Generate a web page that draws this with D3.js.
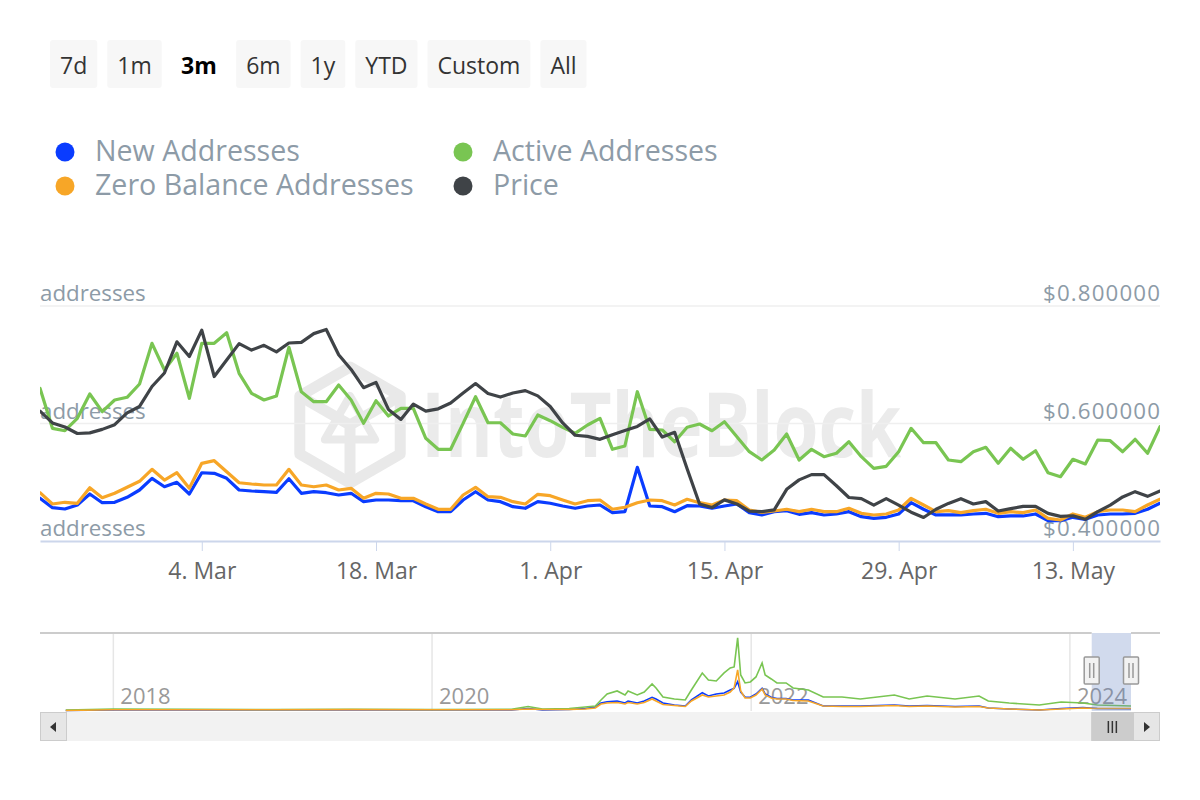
<!DOCTYPE html>
<html><head><meta charset="utf-8">
<script src="https://cdn.jsdelivr.net/npm/d3@7"></script>
<style>
body{margin:0;background:#fff;}
svg{display:block;font-family:"Open Sans",sans-serif;}
</style>
</head><body>
<svg id="c" width="1200" height="800"></svg>
<script>
// ---------------- DATA ----------------
const rangeButtons = ["7d","1m","3m","6m","1y","YTD","Custom","All"];
const selectedButton = "3m";
const seriesNames = ["New Addresses","Active Addresses","Zero Balance Addresses","Price"];
const startDate = "2024-02-20";
const endDate = "2024-05-20";
const dateTicks = ["2024-03-04","2024-03-18","2024-04-01","2024-04-15","2024-04-29","2024-05-13"];
const addressTicks = [0, 2000, 4000];
const priceTicks = [0.4, 0.6, 0.8];

const newAddresses = [
727,567,545,613,800,652,659,744,868,1067,
924,999,800,1162,1152,1067,868,851,839,829,
1060,812,839,822,783,812,669,698,698,686,
686,584,499,499,698,839,698,669,584,557,
669,642,596,557,596,613,482,499,1254,596,
584,499,601,596,557,596,630,482,443,499,
516,454,482,443,460,499,414,386,403,460,
652,540,443,443,443,460,471,414,426,426,
460,346,346,403,369,443,460,460,471,540,
642];
const activeAddresses = [
2599,1918,1877,2088,2502,2201,2400,2446,2672,3365,
2910,3195,2429,3365,3365,3545,2854,2514,2400,2468,
3297,2541,2371,2371,2655,2400,2003,2388,2128,2259,
2259,1748,1561,1561,2003,2456,2013,2013,1821,1787,
2145,2048,1935,1833,1974,2088,1561,1617,2541,1901,
1889,1690,1935,1991,1877,2030,1775,1520,1379,1549,
1821,1379,1561,1435,1493,1690,1435,1237,1271,1520,
1918,1673,1673,1379,1350,1520,1595,1322,1578,1391,
1537,1162,1094,1391,1311,1719,1707,1520,1731,1493,
1945];
const zeroBalanceAddresses = [
822,630,659,642,907,737,812,914,1016,1220,
1038,1162,897,1322,1367,1179,992,970,953,953,
1220,953,924,953,868,897,727,812,800,727,
727,630,540,540,783,914,754,744,669,630,
795,771,698,630,686,698,540,574,652,698,
686,613,710,652,613,698,686,528,488,511,
540,499,540,499,499,557,471,443,460,528,
727,613,499,516,482,516,540,471,499,482,
528,386,357,460,403,499,528,528,499,613,
710];
const price = [
0.621,0.601,0.594,0.583,0.584,0.590,0.598,0.618,0.629,0.663,
0.686,0.739,0.714,0.759,0.680,0.708,0.736,0.725,0.733,0.722,
0.737,0.738,0.753,0.760,0.717,0.692,0.661,0.670,0.624,0.607,
0.633,0.621,0.625,0.635,0.652,0.668,0.651,0.645,0.652,0.656,
0.647,0.629,0.601,0.580,0.578,0.573,0.581,0.588,0.595,0.608,
0.577,0.585,0.523,0.463,0.457,0.470,0.463,0.451,0.450,0.453,
0.488,0.504,0.513,0.513,0.494,0.474,0.472,0.461,0.472,0.461,
0.449,0.440,0.454,0.464,0.472,0.463,0.467,0.451,0.455,0.459,
0.459,0.447,0.442,0.443,0.437,0.450,0.461,0.475,0.484,0.476,
0.485];

// navigator (full history)
const navStart = "2017-07-17";
const navYearTicks = ["2018","2020","2022","2024"];
const navSelStart = "2024-02-20";
const navDates = ["2017-09-14","2018-01-01","2018-07-01","2019-01-01","2019-07-01","2020-01-01","2020-07-01","2020-08-08","2020-09-10","2020-11-10",
"2020-12-17","2021-01-09","2021-01-22","2021-02-05","2021-02-28","2021-03-18","2021-03-25","2021-04-15","2021-05-01","2021-05-19",
"2021-05-28","2021-06-13","2021-07-09","2021-08-03","2021-08-17","2021-09-11","2021-09-25","2021-10-13","2021-10-31","2021-11-14",
"2021-11-23","2021-12-01","2021-12-08","2021-12-18","2021-12-30","2022-01-12","2022-01-26","2022-02-02","2022-02-16","2022-03-01",
"2022-03-22","2022-04-07","2022-05-12","2022-06-15","2022-07-28","2022-09-08","2022-11-25","2022-12-29","2023-02-08","2023-04-13",
"2023-06-07","2023-06-28","2023-08-15","2023-10-23","2023-12-12","2024-01-31","2024-03-04","2024-05-20"];
const navActive = [390,780,663,585,663,585,702,1755,780,975,
1560,1950,4290,6630,7800,6240,7800,6240,7410,10530,
8970,5460,4680,4290,8190,14820,12090,11700,14820,16770,
17160,28470,14040,10920,11310,13260,18720,14040,12480,10920,
10920,8970,8190,5460,5460,4680,6240,4680,5850,4680,
5850,3900,3120,2340,3510,3120,2340,1950];
const navNew = [195,390,390,390,390,390,390,975,390,585,
975,1560,3120,3627,3900,3120,3900,3120,3900,5343,
4680,3120,2340,1950,4290,7137,5850,6630,7020,8190,
8853,11427,7410,5460,5343,6630,8853,6630,5343,4875,
4875,4290,4290,1950,1950,1950,2340,1950,2145,1755,
1950,1170,780,390,975,1365,975,897];
const navZero = [195,468,507,468,546,468,507,780,585,585,
780,1170,2730,3120,3315,2730,3315,2730,3315,4680,
3900,2535,2145,1755,3900,6240,5460,5850,6240,7410,
8970,15990,7800,5070,5070,6240,8580,6240,5070,4680,
4680,4095,3900,1950,1755,1755,2145,1755,1950,1560,
1755,1170,780,390,780,1170,975,975];

// ---------------- CHART ----------------
const svg = d3.select("#c");
const parse = d3.timeParse("%Y-%m-%d");
const colors = {blue:"#0a3cff", green:"#79c552", orange:"#f7a627", dark:"#3f4347"};
const seriesColors = [colors.blue, colors.green, colors.orange, colors.dark];
const labelColor = "#8d9ba7";

// range buttons
const btnG = svg.append("g");
let bx = 50;
rangeButtons.forEach(b => {
  const g = btnG.append("g");
  const sel = b === selectedButton;
  const t = g.append("text").text(b).attr("y", 74)
    .attr("font-size", 23).attr("fill", "#333").attr("text-anchor","middle");
  const w = t.node().getComputedTextLength() + 20;
  if (sel) t.attr("font-weight", 700).attr("fill", "#000");
  else g.insert("rect","text").attr("x", bx).attr("y", 40).attr("width", w).attr("height", 48)
      .attr("rx", 3).attr("fill", "#f7f7f7");
  t.attr("x", bx + w/2);
  bx += w + 10;
});

// legend
const legPos = [[65,152],[463,152],[65,186],[463,186]];
seriesNames.forEach((n,i) => {
  const [lx, ly] = legPos[i];
  svg.append("circle").attr("cx", lx).attr("cy", ly).attr("r", 9.5).attr("fill", seriesColors[i]);
  svg.append("text").attr("x", lx+30).attr("y", ly+9).text(n)
    .attr("font-size", 28.6).attr("fill", labelColor);
});

// scales
const x = d3.scaleTime().domain([parse(startDate), parse(endDate)]).range([40, 1160]);
const yAddr = d3.scaleLinear().domain([addressTicks[0], addressTicks[addressTicks.length-1]]).range([541, 306]);
const yPrice = d3.scaleLinear().domain([priceTicks[0], priceTicks[priceTicks.length-1]]).range([541, 306]);
const dates = newAddresses.map((_, i) => d3.timeDay.offset(parse(startDate), i));

// watermark
const wm = svg.append("g").attr("fill","none").attr("stroke","#e9e9e9").attr("stroke-width",11).attr("stroke-linejoin","round");
const hc = [350, 425], hr = 58;
const hex = d3.range(6).map(k => { const a = Math.PI/180*(60*k - 90); return [hc[0]+hr*Math.cos(a), hc[1]+hr*Math.sin(a)]; });
wm.append("path").attr("d", "M" + hex.map(p=>p.join(",")).join("L") + "Z");
const inner = d3.range(6).map(k => { const a = Math.PI/180*(60*k - 90); return [hc[0]+hr*0.5*Math.cos(a), hc[1]+hr*0.5*Math.sin(a)]; });
wm.append("path").attr("d", `M${hex[5]}L${hc}L${hex[1]}M${hc}L${hex[3]}`);
wm.append("path").attr("d", `M${inner[0]}L${inner[2]}L${inner[4]}Z`).attr("stroke-width",8);
svg.append("text").text("IntoTheBlock").attr("x", 421).attr("y", 457)
  .attr("font-size", 90).attr("font-weight", 700).attr("fill", "#ebebeb")
  .attr("textLength", 480).attr("lengthAdjust", "spacingAndGlyphs");

// grid lines
priceTicks.slice(1).forEach(t => {
  svg.append("line").attr("x1", 40).attr("x2", 1160).attr("y1", yPrice(t)).attr("y2", yPrice(t))
    .attr("stroke", "#efefef").attr("stroke-width", 1.5);
});

// y labels
addressTicks.forEach(t => {
  svg.append("text").attr("x", 40).attr("y", yAddr(t) - 5).text("addresses")
    .attr("font-size", 22.3).attr("fill", labelColor);
});
priceTicks.forEach(t => {
  svg.append("text").attr("x", 1160).attr("y", yPrice(t) - 5).text("$" + d3.format(".6f")(t))
    .attr("font-size", 22.3).attr("fill", labelColor).attr("text-anchor", "end")
    .attr("textLength", 117).attr("lengthAdjust", "spacing");
});

// x axis
const xAxis = d3.axisBottom(x).tickValues(dateTicks.map(parse)).tickFormat(d3.timeFormat("%-d. %b")).tickSize(10).tickSizeOuter(0);
const xg = svg.append("g").attr("transform", "translate(0,541)").call(xAxis);
xg.select(".domain").attr("stroke", "#ccd6eb").attr("stroke-width", 2);
xg.selectAll(".tick line").attr("stroke", "#ccd6eb").attr("stroke-width", 1);
xg.selectAll(".tick text").attr("font-size", 23).attr("fill", "#666").attr("font-family", "\"Open Sans\",sans-serif")
  .attr("dy", null).attr("y", 38);

// series lines
svg.append("clipPath").attr("id","plotclip").append("rect").attr("x",40).attr("y",290).attr("width",1120).attr("height",260);
const plot = svg.append("g").attr("clip-path","url(#plotclip)");
const mk = (arr, ys) => d3.line().x((d,i)=>x(dates[i])).y(d=>ys(d))(arr);
[[newAddresses, yAddr, colors.blue],[activeAddresses, yAddr, colors.green],[zeroBalanceAddresses, yAddr, colors.orange],[price, yPrice, colors.dark]]
 .forEach(([arr, ys, c]) => {
   plot.append("path").attr("d", mk(arr, ys)).attr("fill","none").attr("stroke", c)
     .attr("stroke-width", 3.2).attr("stroke-linejoin","round").attr("stroke-linecap","round");
 });

// ---------------- NAVIGATOR ----------------
const xNav = d3.scaleTime().domain([parse(navStart), parse(endDate)]).range([40, 1131]);
const yNav = d3.scaleLinear().domain([0, 30000]).range([711, 634]);
const nDates = navDates.map(parse);
navYearTicks.forEach(yr => {
  const px = xNav(parse(yr + "-01-01"));
  svg.append("line").attr("x1", px).attr("x2", px).attr("y1", 633).attr("y2", 711).attr("stroke", "#e6e6e6").attr("stroke-width", 1.5);
  svg.append("text").attr("x", px + 7).attr("y", 704).text(yr).attr("font-size", 22).attr("fill", "#999");
});
[[navNew, colors.blue],[navActive, colors.green],[navZero, colors.orange]].forEach(([arr, c]) => {
  svg.append("path").attr("d", d3.line().x((d,i)=>xNav(nDates[i])).y(d=>yNav(d))(arr))
    .attr("fill","none").attr("stroke", c).attr("stroke-width", 1.6);
});
const selL = xNav(parse(navSelStart)), selR = xNav(parse(endDate));
svg.append("rect").attr("x", selL).attr("y", 633).attr("width", selR - selL).attr("height", 78)
  .attr("fill", "rgba(102,133,194,0.3)");
svg.append("path").attr("d", `M40,633H${selL}M${selR},633H1160`).attr("stroke", "#cccccc").attr("stroke-width", 2).attr("fill","none");
[selL, selR].forEach(hx => {
  svg.append("rect").attr("x", hx - 7.5).attr("y", 657).attr("width", 15).attr("height", 27)
    .attr("fill", "#f2f2f2").attr("stroke", "#999").attr("stroke-width", 1.5).attr("rx", 1);
  [-2, 2].forEach(o => svg.append("line").attr("x1", hx + o).attr("x2", hx + o).attr("y1", 663).attr("y2", 678)
    .attr("stroke", "#999").attr("stroke-width", 1.5));
});

// scrollbar
svg.append("rect").attr("x", 40).attr("y", 712).attr("width", 1120).attr("height", 29).attr("fill", "#f2f2f2");
svg.append("rect").attr("x", 40.5).attr("y", 712.5).attr("width", 26).attr("height", 28).attr("fill", "#e6e6e6").attr("stroke", "#cccccc");
svg.append("path").attr("d", "M50,727L56,722V732Z").attr("fill", "#333");
svg.append("rect").attr("x", 1133.5).attr("y", 712.5).attr("width", 26).attr("height", 28).attr("fill", "#e6e6e6").attr("stroke", "#cccccc");
svg.append("path").attr("d", "M1150,727L1144,722V732Z").attr("fill", "#333");
svg.append("rect").attr("x", selL).attr("y", 712.5).attr("width", 1133 - selL).attr("height", 28).attr("fill", "#cccccc").attr("stroke", "#cccccc");
const tc = (selL + 1133) / 2;
[-4, 0, 4].forEach(o => svg.append("line").attr("x1", tc + o).attr("x2", tc + o).attr("y1", 721).attr("y2", 733)
  .attr("stroke", "#333").attr("stroke-width", 1.5));
</script>
</body></html>
